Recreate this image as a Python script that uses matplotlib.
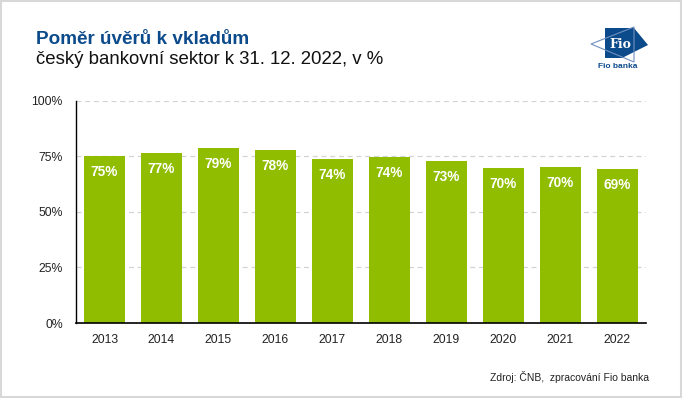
import matplotlib
matplotlib.use("Agg")
import matplotlib.pyplot as plt
from matplotlib.patches import Polygon, Rectangle

plt.rcParams['font.family'] = ['Liberation Sans', 'DejaVu Sans']

# data
years = ['2013', '2014', '2015', '2016', '2017', '2018', '2019', '2020', '2021', '2022']
ratio = [75.0, 76.6, 78.8, 77.8, 73.7, 74.4, 72.6, 69.6, 70.0, 69.4]
bar_labels = ['75%', '77%', '79%', '78%', '74%', '74%', '73%', '70%', '70%', '69%']
y_ticks = [0, 25, 50, 75, 100]
y_tick_labels = ['0%', '25%', '50%', '75%', '100%']

W, H = 682, 398
GREEN = '#90bd00'
BLUE = '#0b4a8b'


def px(x, y):
    # pixel coords (from top-left) -> figure fraction
    return x / W, 1 - y / H


fig = plt.figure(figsize=(W / 100, H / 100), dpi=100)
ax = fig.add_axes([75.5 / W, 1 - 323 / H, (645.5 - 75.5) / W, (323 - 100.5) / H])

x = list(range(len(years)))
ax.bar(x, ratio, width=0.72, color=GREEN, zorder=2)

for xi, v, lab in zip(x, ratio, bar_labels):
    ax.annotate(lab, (xi, v), xytext=(0, -16), textcoords='offset pixels',
                ha='center', va='center', color='white', fontsize=9.8,
                fontweight='bold', zorder=3)

ax.set_xlim(-0.51, 9.5)
ax.set_ylim(0, 100)
ax.set_xticks(x)
ax.set_xticklabels(years, fontsize=8.8)
ax.set_yticks(y_ticks)
ax.set_yticklabels(y_tick_labels, fontsize=8.8)
ax.tick_params(axis='both', length=0, colors='#222222')
ax.tick_params(axis='x', pad=8)
ax.tick_params(axis='y', pad=9)

ax.yaxis.grid(True, color='#d4d4d4', linestyle=(0, (4, 3)), linewidth=0.9, zorder=0)
ax.set_axisbelow(True)
for s in ['top', 'right']:
    ax.spines[s].set_visible(False)
ax.spines['left'].set_linewidth(1.0)
ax.spines['bottom'].set_linewidth(1.2)
ax.spines['left'].set_zorder(4)
ax.spines['bottom'].set_zorder(4)

# titles
fig.text(*px(36, 44), 'Poměr úvěrů k vkladům', fontsize=13.6, fontweight='bold',
         color=BLUE, ha='left', va='baseline')
fig.text(*px(36, 64), 'český bankovní sektor k 31. 12. 2022, v %', fontsize=13.4,
         color='#111111', ha='left', va='baseline')

# source
fig.text(*px(649, 377), 'Zdroj: ČNB,  zpracování Fio banka', fontsize=7.5,
         color='#222222', ha='right', va='center')

# logo (rough sketch of the Fio mark)
blue_shape = [px(605, 28), px(634, 28), px(648, 45), px(622, 58), px(605, 58)]
fig.patches.append(Polygon(blue_shape, closed=True, transform=fig.transFigure,
                           facecolor=BLUE, edgecolor='none'))
tri = [px(591, 44), px(634, 27), px(634, 62)]
fig.patches.append(Polygon(tri, closed=True, transform=fig.transFigure,
                           facecolor='none', edgecolor='#6f8fbf', linewidth=0.8))
fig.text(*px(620, 44), 'Fio', fontsize=9, family='DejaVu Serif', fontweight='bold',
         color='white', ha='center', va='center')
fig.text(*px(618, 67), 'Fio banka', fontsize=6, fontweight='bold', color=BLUE,
         ha='center', va='center')

# frame
fig.patches.append(Rectangle((0.001, 0.002), 0.997, 0.996, transform=fig.transFigure,
                             facecolor='none', edgecolor='#d8d8d8', linewidth=1.5))

fig.savefig('out.png', dpi=100)
